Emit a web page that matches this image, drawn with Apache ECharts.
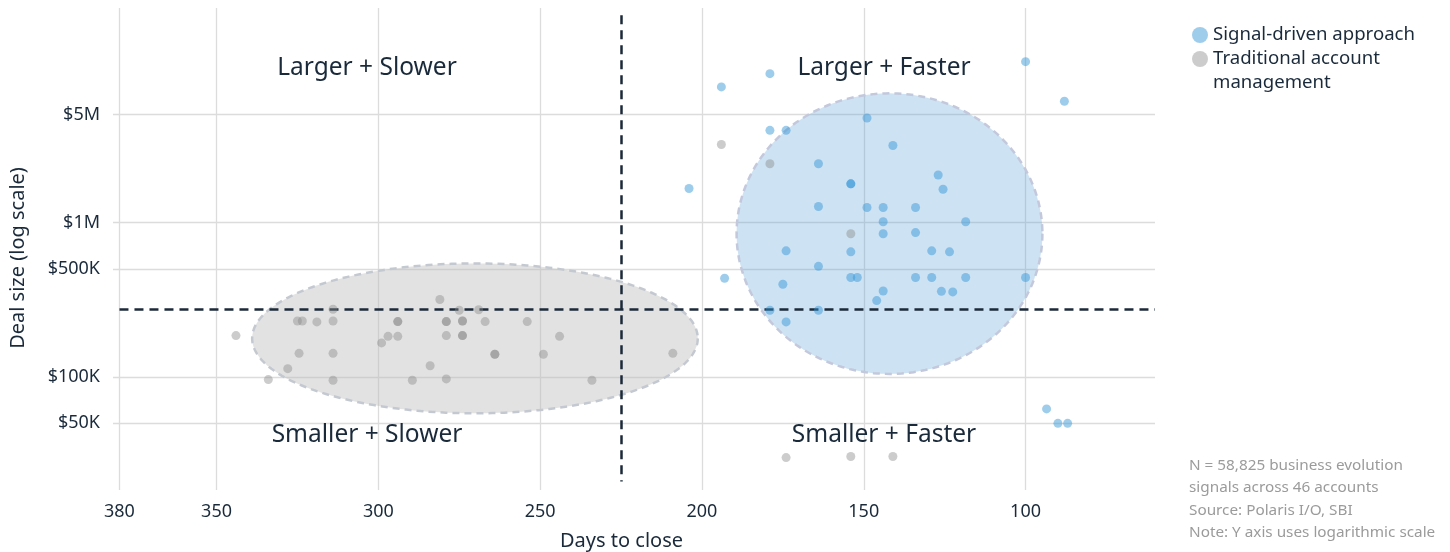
<!DOCTYPE html>
<html>
<head>
<meta charset="utf-8">
<script src="https://cdn.jsdelivr.net/npm/echarts@6/dist/echarts.min.js"></script>
<style>
html,body{margin:0;padding:0;background:#fff;}
#chart{width:1450px;height:552px;}
</style>
</head>
<body>
<div id="chart"></div>
<script>
// ---------- data ----------
const seriesNames = ['Signal-driven approach', 'Traditional account management'];

const signalDays = [179, 194, 100, 88, 179, 174, 149, 141, 164, 154, 154, 204, 127, 125.5, 164, 149, 144, 134, 144, 118.5, 144, 134, 174, 154, 129, 123.5, 164, 193, 154, 152, 134, 129, 118.5, 100, 175, 144, 126, 122.5, 146, 179, 164, 174, 93.5, 90, 87];
const signalDeal = [9200000, 7550000, 11000000, 6100000, 3950000, 3950000, 4750000, 3150000, 2400000, 1780000, 1780000, 1660000, 2030000, 1640000, 1270000, 1250000, 1250000, 1250000, 1010000, 1010000, 845000, 860000, 655000, 645000, 655000, 645000, 520000, 435000, 440000, 440000, 440000, 440000, 440000, 440000, 398000, 360000, 358000, 355000, 312000, 270000, 270000, 227000, 62000, 50000, 50000];

const tradDays = [194, 179, 154, 174, 154, 141, 344, 334, 328, 325, 323.5, 324.5, 319, 314, 314, 314, 314, 299, 297, 294, 294, 294, 289.5, 284, 281, 279, 279, 279, 279, 275, 274, 274, 274, 274, 269, 267, 254, 264, 264, 249, 244, 234, 209];
const tradDeal = [3200000, 2400000, 845000, 30000, 30500, 30500, 185000, 96000, 113000, 230000, 230000, 142000, 227000, 274000, 230000, 142000, 95000, 166000, 183000, 228000, 228000, 183000, 95000, 118000, 317000, 228000, 228000, 185000, 97000, 270000, 230000, 230000, 185000, 185000, 272000, 228000, 228000, 140000, 140000, 140000, 183000, 95000, 142000];

// cluster ellipses: [days left, days right, deal top, deal bottom]
const tradCluster = [339, 201.3, 543000, 58100];
const signalCluster = [189.3, 94.8, 6860000, 104500];

// threshold lines
const thresholdDays = 225;
const thresholdDeal = 275000;

// axis ticks
const xTicks = [380, 350, 300, 250, 200, 150, 100];
const yTicks = [50000, 100000, 500000, 1000000, 5000000];
const yTickLabels = ['$50K', '$100K', '$500K', '$1M', '$5M'];

const quadrantLabels = ['Larger + Slower', 'Larger + Faster', 'Smaller + Slower', 'Smaller + Faster'];
const footnoteLines = ['N = 58,825 business evolution', 'signals across 46 accounts', 'Source: Polaris I/O, SBI', 'Note: Y axis uses logarithmic scale'];

// ---------- chart ----------
const FONT = '"Noto Sans"';
const INK = '#1a2a3b';

const chart = echarts.init(document.getElementById('chart'), null, {renderer: 'canvas'});

function zipPts(xs, ys) { return xs.map((x, i) => [x, ys[i]]); }

function ellipseRenderer(fill, stroke) {
  return function (params, api) {
    const p1 = api.coord([api.value(0), api.value(2)]);
    const p2 = api.coord([api.value(1), api.value(3)]);
    const cx = (p1[0] + p2[0]) / 2, cy = (p1[1] + p2[1]) / 2;
    const rx = Math.abs(p2[0] - p1[0]) / 2, ry = Math.abs(p2[1] - p1[1]) / 2;
    const pts = [];
    const n = 240;
    for (let i = 0; i < n; i++) {
      const t = i / n * Math.PI * 2;
      pts.push([cx + rx * Math.cos(t), cy + ry * Math.sin(t)]);
    }
    return {
      type: 'polygon',
      shape: {points: pts},
      style: {fill: fill, stroke: stroke, lineWidth: 2.5, lineDash: [7, 5]}
    };
  };
}

function quadText(txt, x, y) {
  return {
    type: 'text', x: x, y: y, silent: true, z: 100,
    style: {text: txt, fontFamily: 'Noto Sans', fontSize: 24.5, fill: INK, align: 'center', verticalAlign: 'middle'}
  };
}

const option = {
  animation: false,
  backgroundColor: '#ffffff',
  textStyle: {fontFamily: FONT},
  grid: {left: 113, right: 295, top: 8, bottom: 62, containLabel: false, outerBoundsMode: 'none'},
  title: {
    text: footnoteLines.join('\n'),
    left: 1189, top: 454, padding: 0,
    textStyle: {fontFamily: FONT, fontSize: 15.3, fontWeight: 'normal', color: '#9b9b9b', lineHeight: 22.5}
  },
  legend: {
    orient: 'vertical',
    left: 1192, top: 23, padding: 0,
    itemWidth: 16, itemHeight: 16, itemGap: -24,
    icon: 'circle',
    data: [seriesNames[0], seriesNames[1]],
    formatter: function (name) {
      return name === seriesNames[1] ? '\nTraditional account\nmanagement' : name;
    },
    textStyle: {fontFamily: FONT, fontSize: 18.6, color: INK, lineHeight: 24}
  },
  xAxis: {
    type: 'value',
    min: 60, max: 382, inverse: true,
    name: 'Days to close',
    nameLocation: 'middle', nameGap: 41,
    nameTextStyle: {fontFamily: FONT, fontSize: 20, color: INK, padding: [0, 25, 0, 0]},
    axisLine: {show: false},
    axisTick: {show: false, customValues: xTicks},
    axisLabel: {customValues: xTicks, fontFamily: FONT, fontSize: 18, color: INK, margin: 13},
    splitLine: {show: true, lineStyle: {color: '#dcdcdc', width: 1.3}}
  },
  yAxis: {
    type: 'log', logBase: 10,
    min: 18500, max: 24500000,
    name: 'Deal size (log scale)',
    nameLocation: 'middle', nameGap: 85,
    nameTextStyle: {fontFamily: FONT, fontSize: 20, color: INK, padding: [0, 18, 0, 0]},
    axisLine: {show: false},
    axisTick: {show: false, customValues: yTicks},
    axisLabel: {
      customValues: yTicks, fontFamily: FONT, fontSize: 18, color: INK, margin: 13,
      formatter: function (v) {
        let best = 0, bd = Infinity;
        yTicks.forEach((t, i) => { const d = Math.abs(Math.log(t) - Math.log(v)); if (d < bd) { bd = d; best = i; } });
        return yTickLabels[best];
      }
    },
    splitLine: {show: true, lineStyle: {color: '#dcdcdc', width: 1.3}}
  },
  graphic: [
    quadText(quadrantLabels[0], 367, 68),
    quadText(quadrantLabels[1], 884, 68),
    quadText(quadrantLabels[2], 367, 435),
    quadText(quadrantLabels[3], 884, 435)
  ],
  series: [
    {
      type: 'custom', name: 'tradCluster', silent: true, z: 1,
      renderItem: ellipseRenderer('rgba(185,185,185,0.42)', '#c4c9d1'),
      encode: {x: [0, 1], y: [2, 3]},
      data: [tradCluster]
    },
    {
      type: 'custom', name: 'signalCluster', silent: true, z: 1,
      renderItem: ellipseRenderer('rgba(91,160,214,0.3)', '#c3c8dc'),
      encode: {x: [0, 1], y: [2, 3]},
      data: [signalCluster]
    },
    {
      type: 'scatter', name: seriesNames[1], z: 3,
      symbolSize: 9,
      itemStyle: {color: 'rgba(140,140,140,0.55)'},
      data: zipPts(tradDays, tradDeal),
      markLine: {
        silent: true, symbol: 'none', z: 2,
        label: {show: false},
        lineStyle: {color: '#1b2a3a', width: 2.5, type: [9, 6]},
        data: [
          [{coord: [thresholdDays, 22000000]}, {coord: [thresholdDays, 21000]}],
          [{coord: [380, thresholdDeal]}, {coord: [60, thresholdDeal]}]
        ]
      }
    },
    {
      type: 'scatter', name: seriesNames[0], z: 4,
      symbolSize: 9,
      itemStyle: {color: 'rgba(52,150,215,0.6)'},
      data: zipPts(signalDays, signalDeal)
    }
  ]
};
chart.setOption(option);
</script>
</body>
</html>
